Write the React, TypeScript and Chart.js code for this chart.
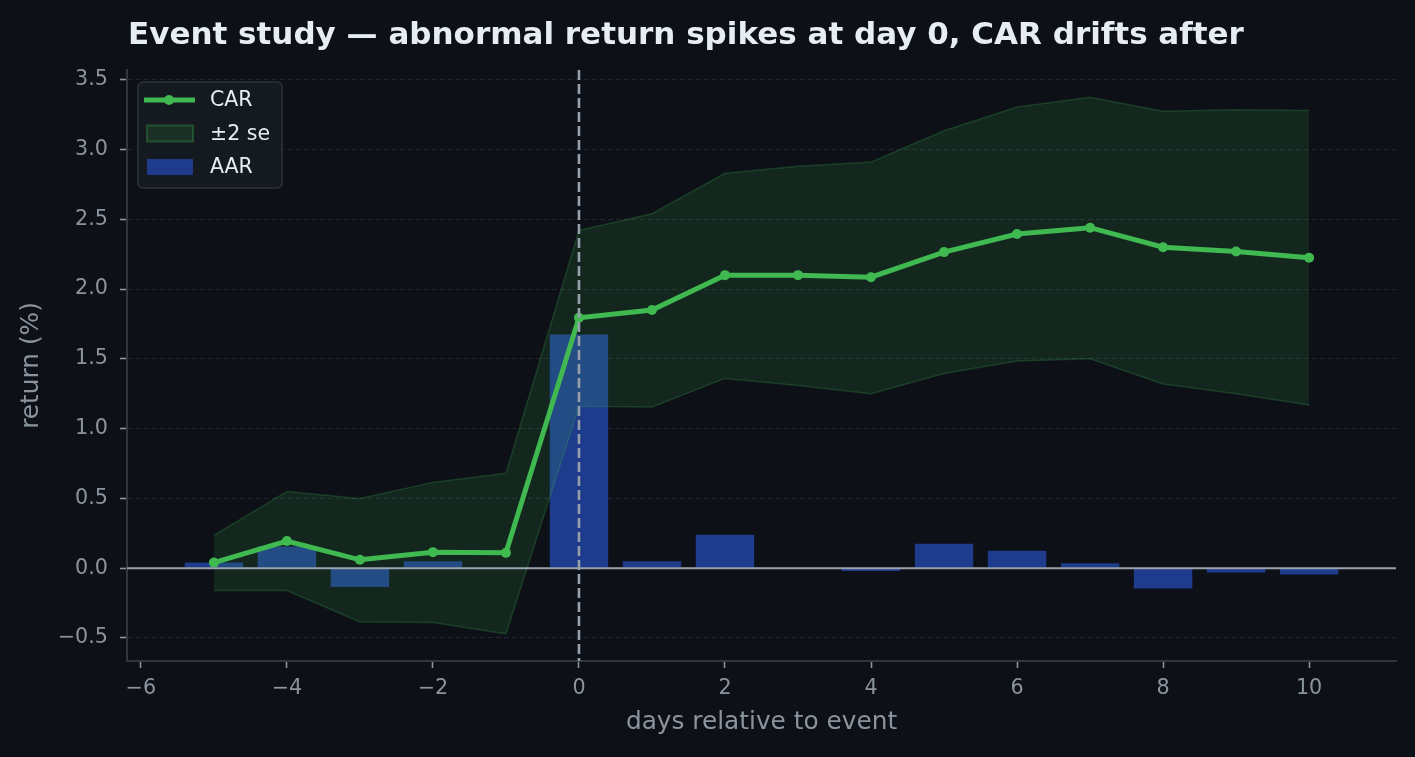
import { useEffect, useRef } from "react"
import { Chart, registerables } from "chart.js"

Chart.register(...registerables)

// days relative to the event
const days = [-5, -4, -3, -2, -1, 0, 1, 2, 3, 4, 5, 6, 7, 8, 9, 10]
// average abnormal return (%)
const aar = [0.04, 0.155, -0.135, 0.05, -0.005, 1.675, 0.05, 0.24, 0.0, -0.02, 0.175, 0.125, 0.035, -0.145, -0.03, -0.045]
// cumulative abnormal return (%)
const car = [0.04, 0.195, 0.06, 0.115, 0.11, 1.795, 1.85, 2.1, 2.1, 2.085, 2.265, 2.395, 2.44, 2.3, 2.27, 2.225]
// CAR +/- 2 standard errors
const bandUpper = [0.235, 0.55, 0.5, 0.615, 0.68, 2.42, 2.54, 2.83, 2.88, 2.91, 3.135, 3.305, 3.375, 3.275, 3.285, 3.28]
const bandLower = [-0.16, -0.16, -0.385, -0.39, -0.47, 1.16, 1.155, 1.36, 1.31, 1.25, 1.395, 1.485, 1.5, 1.32, 1.25, 1.17]

const xTicks = [-6, -4, -2, 0, 2, 4, 6, 8, 10]
const yTicks = [-0.5, 0, 0.5, 1, 1.5, 2, 2.5, 3, 3.5]

const titleText = "Event study — abnormal return spikes at day 0, CAR drifts after"

const BG = "#0d1017"
const MUTED = "#8b949e"
const SPINE = "#30363d"
const GREEN = "#3fb950"
const BAND_FILL = "rgba(63, 185, 80, 0.14)"
const BAND_EDGE = "rgba(63, 185, 80, 0.22)"
const BAR = "#1e3b8c"
const FONT = "'DejaVu Sans', 'Noto Sans', sans-serif"

const minus = (s: string) => s.replace("-", "\u2212")

// zero line and the event-day marker
const refLines = {
  id: "refLines",
  afterDatasetsDraw(chart: any) {
    const { ctx, chartArea, scales } = chart
    const y0 = scales.y.getPixelForValue(0)
    const x0 = scales.x.getPixelForValue(0)
    ctx.save()
    ctx.strokeStyle = "#9aa4b0"
    ctx.lineWidth = 2
    ctx.beginPath()
    ctx.moveTo(chartArea.left, y0)
    ctx.lineTo(chartArea.right, y0)
    ctx.stroke()
    ctx.strokeStyle = "#96a0ad"
    ctx.lineWidth = 2.6
    ctx.setLineDash([10, 4])
    ctx.beginPath()
    ctx.moveTo(x0, chartArea.top)
    ctx.lineTo(x0, chartArea.bottom)
    ctx.stroke()
    ctx.restore()
  },
}

const titlePlugin = {
  id: "leftTitle",
  afterDraw(chart: any) {
    const { ctx } = chart
    ctx.save()
    ctx.fillStyle = "#e6edf3"
    ctx.font = `bold 31px ${FONT}`
    ctx.textAlign = "left"
    ctx.textBaseline = "alphabetic"
    ctx.fillText(titleText, 128, 44)
    ctx.restore()
  },
}

// legend drawn inside the plot, upper left
const innerLegend = {
  id: "innerLegend",
  afterDraw(chart: any) {
    const { ctx, chartArea } = chart
    const metas = chart.getSortedVisibleDatasetMetas()
    const entries = metas
      .map((m: any) => chart.data.datasets[m.index])
      .filter((ds: any) => ds.label)
    const left = chartArea.left + 11
    const top = chartArea.top + 12
    const w = 144
    const h = 106
    ctx.save()
    ctx.fillStyle = "rgba(22, 27, 34, 0.92)"
    ctx.strokeStyle = "#2d333b"
    ctx.lineWidth = 1.5
    ctx.beginPath()
    ctx.roundRect(left, top, w, h, 5)
    ctx.fill()
    ctx.stroke()
    ctx.font = `20.5px ${FONT}`
    ctx.textBaseline = "middle"
    entries.forEach((ds: any, i: number) => {
      const cy = top + 18 + i * 33.5
      if (ds.type === "bar") {
        ctx.fillStyle = ds.backgroundColor
        ctx.fillRect(left + 9, cy - 8, 46, 16)
      } else if (ds.fill) {
        ctx.fillStyle = ds.backgroundColor
        ctx.fillRect(left + 9, cy - 8, 46, 16)
        ctx.strokeStyle = "rgba(63, 185, 80, 0.3)"
        ctx.lineWidth = 2
        ctx.strokeRect(left + 9, cy - 8, 46, 16)
      } else {
        ctx.strokeStyle = ds.borderColor
        ctx.lineWidth = ds.borderWidth
        ctx.beginPath()
        ctx.moveTo(left + 6, cy)
        ctx.lineTo(left + 57, cy)
        ctx.stroke()
        ctx.fillStyle = ds.borderColor
        ctx.beginPath()
        ctx.arc(left + 31, cy, ds.pointRadius, 0, Math.PI * 2)
        ctx.fill()
      }
      ctx.fillStyle = "#e6edf3"
      ctx.fillText(ds.label, left + 72, cy + 1)
    })
    ctx.restore()
  },
}

export default function App() {
  const chartRef = useRef<HTMLCanvasElement>(null)
  const chartInstance = useRef<Chart | null>(null)

  useEffect(() => {
    document.body.style.margin = "0"
    document.body.style.background = BG
    if (!chartRef.current) return

    if (chartInstance.current) {
      chartInstance.current.destroy()
    }

    Chart.defaults.font.family = FONT

    chartInstance.current = new Chart(chartRef.current, {
      type: "line",
      data: {
        datasets: [
          {
            type: "bar",
            label: "AAR",
            data: days.map((d, i) => ({ x: d, y: aar[i] })),
            backgroundColor: BAR,
            borderWidth: 0,
            categoryPercentage: 0.8,
            barPercentage: 1,
            order: 3,
          },
          {
            type: "line",
            label: "",
            data: days.map((d, i) => ({ x: d, y: bandLower[i] })),
            borderColor: BAND_EDGE,
            borderWidth: 1.5,
            pointRadius: 0,
            fill: false,
            order: 2,
          },
          {
            type: "line",
            label: "±2 se",
            data: days.map((d, i) => ({ x: d, y: bandUpper[i] })),
            borderColor: BAND_EDGE,
            backgroundColor: BAND_FILL,
            borderWidth: 1.5,
            pointRadius: 0,
            fill: "-1",
            order: 2,
          },
          {
            type: "line",
            label: "CAR",
            data: days.map((d, i) => ({ x: d, y: car[i] })),
            borderColor: GREEN,
            backgroundColor: GREEN,
            borderWidth: 5,
            pointRadius: 5,
            pointBackgroundColor: GREEN,
            pointBorderWidth: 0,
            fill: false,
            order: 1,
          },
        ] as any,
      },
      options: {
        responsive: true,
        maintainAspectRatio: false,
        animation: false,
        layout: { padding: { top: 70, right: 19, bottom: 0, left: 0 } },
        plugins: {
          legend: { display: false },
          title: { display: false },
          tooltip: { enabled: false },
        },
        scales: {
          x: {
            type: "linear",
            min: -6.19,
            max: 11.19,
            offset: false,
            afterFit: (scale: any) => {
              scale.height = 96
            },
            afterBuildTicks: (scale: any) => {
              scale.ticks = xTicks.map((value) => ({ value }))
            },
            grid: {
              display: true,
              drawOnChartArea: false,
              drawTicks: true,
              tickLength: 7,
              tickColor: MUTED,
              tickWidth: 1.6,
              color: "transparent",
              offset: false,
            },
            border: { display: true, color: SPINE, width: 2 },
            ticks: {
              color: MUTED,
              font: { size: 20.7 },
              padding: 8,
              maxRotation: 0,
              autoSkip: false,
              callback: (v: any) => minus(String(v)),
            },
            title: {
              display: true,
              text: "days relative to event",
              color: MUTED,
              font: { size: 24.8 },
              padding: { top: 0, bottom: 20 },
            },
          },
          y: {
            type: "linear",
            min: -0.665,
            max: 3.57,
            afterFit: (scale: any) => {
              scale.width = 127
            },
            afterBuildTicks: (scale: any) => {
              scale.ticks = yTicks.map((value) => ({ value }))
            },
            grid: {
              color: "#20262f",
              lineWidth: 1,
              drawTicks: true,
              tickLength: 7,
              tickColor: MUTED,
              tickWidth: 1.6,
            },
            border: { display: true, color: SPINE, width: 2, dash: [5, 3] },
            ticks: {
              color: MUTED,
              font: { size: 20.7 },
              padding: 12,
              callback: (v: any) => minus(Number(v).toFixed(1)),
            },
            title: {
              display: true,
              text: "return (%)",
              color: MUTED,
              font: { size: 24.8 },
              padding: { top: 17, bottom: 0 },
            },
          },
        },
      },
      plugins: [refLines, innerLegend, titlePlugin],
    })

    return () => {
      if (chartInstance.current) {
        chartInstance.current.destroy()
        chartInstance.current = null
      }
    }
  }, [])

  return (
    <div style={{ width: 1415, height: 757, background: BG, position: "relative" }}>
      <canvas ref={chartRef} />
    </div>
  )
}
